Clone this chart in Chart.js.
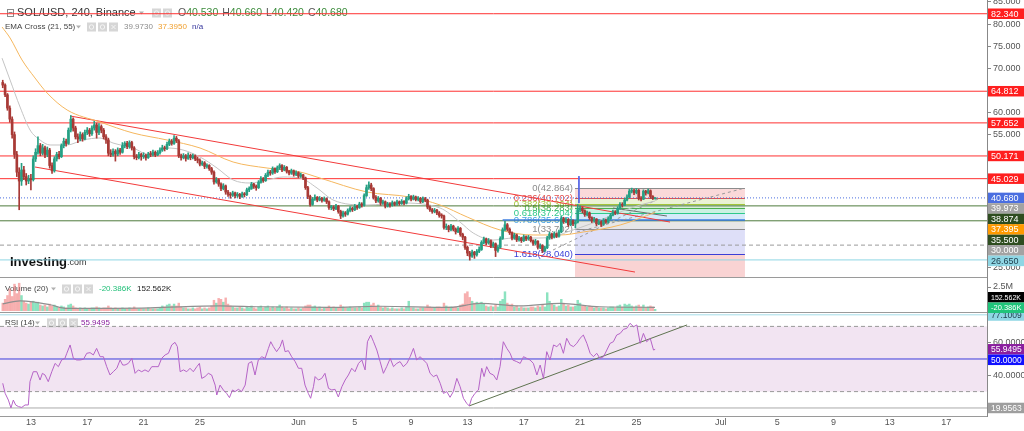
<!DOCTYPE html>
<html>
<head>
<meta charset="utf-8">
<script src="https://cdn.jsdelivr.net/npm/chart.js@4.4.1/dist/chart.umd.min.js"></script>
<style>
  html, body { margin: 0; padding: 0; background: #fff; }
  #wrap { position: relative; width: 1024px; height: 431px; overflow: hidden; background: #fff; }
  canvas { position: absolute; left: 0; }
</style>
</head>
<body>
<div id="wrap">
  <canvas id="priceChart" width="1024" height="278" style="top:0px"></canvas>
  <canvas id="volChart" width="1024" height="35" style="top:278px"></canvas>
  <canvas id="rsiChart" width="1024" height="118" style="top:313px"></canvas>
</div>
<script>
// SOL/USD 240 (Binance) - price with EMA cross, volume and RSI panels

const FONT = "'Liberation Sans', Arial, sans-serif";
const X_MIN = 9.805, X_MAX = 79.9;   // x values are days since May 1
const AXIS_W = 37;

// --- x axis ---
const dayTicks = [12, 16, 20, 24, 31, 35, 39, 43, 47, 51, 55, 61, 65, 69, 73, 77];
const dayLabels = ["13", "17", "21", "25", "Jun", "5", "9", "13", "17", "21", "25", "Jul", "5", "9", "13", "17"];

// --- 4h candles from May 11 00:00 (open = previous close) ---
const firstOpen = 66.8;
const closes = [
  66.2, 64.0, 61.0, 58.5, 55.0, 50.5, 46.5, 44.5, 47.0, 45.5,
  44.5, 45.0, 44.8, 49.5, 51.0, 52.5, 50.8, 52.0, 50.5, 51.5,
  48.0, 46.8, 49.5, 50.5, 50.0, 52.5, 53.5, 53.0, 56.0, 58.5,
  56.5, 54.5, 54.0, 55.0, 54.0, 55.5, 56.0, 55.2, 56.5, 57.2,
  55.5, 56.8, 56.0, 54.5, 53.8, 50.8, 50.5, 51.2, 50.6, 51.5,
  51.0, 52.5, 53.0, 52.3, 53.2, 52.0, 50.0, 49.8, 50.5, 50.0,
  50.3, 49.8, 50.6, 50.5, 51.0, 50.4, 50.9, 51.5, 52.0, 51.8,
  52.8, 53.5, 53.0, 54.2, 53.6, 50.2, 49.8, 50.2, 49.6, 50.3,
  49.8, 50.2, 49.5, 49.2, 48.3, 48.6, 47.8, 48.0, 47.3, 46.5,
  44.3, 44.8, 43.8, 42.8, 43.4, 42.0, 41.5, 41.3, 41.8, 41.2,
  41.5, 41.0, 41.6, 41.4, 42.5, 42.8, 43.8, 43.3, 43.0, 44.2,
  45.0, 44.6, 45.8, 46.5, 46.3, 47.3, 46.6, 47.5, 48.0, 47.0,
  47.6, 46.7, 46.3, 46.8, 46.0, 46.4, 45.6, 45.9, 45.2, 43.0,
  41.0, 39.2, 40.4, 40.8, 40.2, 40.6, 40.1, 40.5, 39.8, 38.5,
  38.6, 38.2, 38.8, 37.6, 36.6, 37.3, 37.0, 37.8, 38.3, 38.0,
  38.8, 38.5, 39.3, 39.0, 41.2, 43.0, 43.6, 42.8, 40.8, 40.0,
  40.6, 39.5, 39.8, 38.8, 39.3, 39.0, 39.6, 39.2, 39.8, 39.4,
  39.9, 39.5, 40.5, 41.0, 40.4, 40.9, 40.3, 40.6, 39.8, 40.5,
  40.2, 38.6, 38.0, 37.6, 37.9, 37.3, 36.7, 36.6, 34.0, 34.2,
  33.5, 34.3, 33.6, 33.0, 33.8, 32.4, 31.8, 29.5, 28.2, 27.5,
  28.4, 27.8, 28.6, 29.0, 30.6, 31.4, 30.5, 31.0, 29.8, 30.3,
  28.8, 29.5, 31.5, 33.5, 34.6, 33.6, 32.8, 31.6, 32.3, 31.2,
  31.6, 31.0, 31.9, 31.4, 31.8, 31.0, 30.4, 30.9, 29.5, 29.9,
  28.7, 29.4, 31.6, 32.5, 31.8, 32.6, 32.0, 33.0, 36.0, 35.3,
  35.8, 34.6, 35.5, 34.8, 35.2, 38.0, 38.4, 37.8, 36.9, 37.3,
  36.2, 35.5, 35.9, 34.8, 35.3, 34.7, 35.6, 35.2, 36.0, 36.8,
  37.5, 37.2, 38.3, 39.2, 39.0, 40.2, 40.9, 42.2, 42.3, 41.9,
  42.4, 40.6, 40.4, 42.2, 41.8, 42.3, 41.0, 40.53, 40.68
];
const highs = [
  67.3, 66.5, 64.3, 61.5, 59.0, 55.6, 51.2, 47.5, 48.5, 47.8,
  46.2, 45.8, 46.0, 50.2, 51.8, 54.5, 53.0, 52.8, 52.4, 52.2,
  51.9, 48.6, 50.0, 51.0, 51.2, 52.9, 54.2, 54.0, 56.5, 59.3,
  58.8, 56.9, 55.2, 55.6, 55.4, 56.0, 56.6, 56.4, 57.0, 58.0,
  57.6, 57.5, 57.2, 56.4, 55.0, 54.2, 51.6, 51.8, 51.6, 52.0,
  51.9, 53.2, 53.4, 53.5, 53.6, 53.5, 52.3, 50.5, 51.0, 50.8,
  50.9, 50.6, 51.0, 51.2, 51.5, 51.3, 51.4, 52.0, 52.6, 52.4,
  53.3, 54.0, 53.9, 54.8, 54.6, 53.9, 50.6, 50.7, 50.5, 50.9,
  50.6, 50.6, 50.4, 49.9, 49.5, 49.0, 48.9, 48.4, 48.2, 47.6,
  46.8, 45.3, 45.0, 44.1, 43.9, 43.6, 42.4, 41.9, 42.2, 42.0,
  41.9, 41.7, 42.0, 41.9, 42.9, 43.2, 44.2, 44.0, 43.6, 44.6,
  45.5, 45.3, 46.2, 47.0, 46.9, 47.7, 47.5, 47.9, 48.4, 48.2,
  48.0, 47.8, 46.9, 47.2, 47.0, 46.8, 46.6, 46.3, 46.0, 45.4,
  43.3, 41.3, 40.8, 41.4, 41.0, 41.0, 40.8, 40.9, 40.7, 40.0,
  39.0, 38.9, 39.2, 39.0, 37.9, 37.7, 37.6, 38.2, 38.7, 38.6,
  39.2, 39.0, 39.7, 39.6, 41.6, 43.6, 44.3, 44.0, 43.0, 41.2,
  41.0, 40.8, 40.2, 40.0, 39.7, 39.6, 40.0, 39.8, 40.2, 40.0,
  40.3, 40.1, 40.9, 41.5, 41.2, 41.3, 41.1, 41.0, 40.8, 40.9,
  40.8, 40.4, 38.9, 38.3, 38.3, 38.1, 37.6, 37.1, 36.8, 34.8,
  34.5, 34.7, 34.5, 33.9, 34.2, 34.0, 32.7, 32.0, 29.8, 28.6,
  28.9, 28.6, 29.0, 29.6, 31.0, 31.8, 31.6, 31.5, 31.2, 30.7,
  30.5, 29.9, 31.9, 33.9, 35.4, 34.9, 33.9, 33.0, 32.7, 32.5,
  32.0, 31.8, 32.3, 32.1, 32.2, 32.0, 31.2, 31.3, 31.0, 30.3,
  30.1, 29.8, 32.0, 32.9, 32.7, 33.0, 32.8, 33.4, 36.5, 36.3,
  36.2, 36.0, 35.9, 35.7, 35.6, 39.2, 38.9, 38.6, 38.0, 37.7,
  37.5, 36.4, 36.3, 36.0, 35.7, 35.5, 36.0, 35.9, 36.4, 37.2,
  37.9, 37.8, 38.7, 39.6, 39.6, 40.6, 41.4, 42.6, 42.9, 42.6,
  42.8, 42.6, 41.0, 42.5, 42.4, 42.7, 42.5, 41.2, 40.7
];
const lows = [
  65.6, 63.6, 60.5, 57.8, 54.2, 49.6, 45.5, 38.0, 43.5, 44.8,
  43.6, 43.9, 42.5, 44.5, 48.9, 50.6, 50.2, 50.4, 49.8, 50.0,
  47.4, 46.2, 46.5, 49.0, 49.5, 49.8, 52.0, 52.4, 52.8, 55.6,
  55.8, 54.0, 53.2, 53.6, 53.5, 53.8, 55.0, 54.6, 54.8, 56.0,
  54.2, 55.0, 55.4, 54.0, 53.0, 50.2, 50.0, 50.1, 49.0, 50.2,
  50.5, 50.8, 52.0, 51.8, 51.9, 51.5, 49.5, 49.3, 49.5, 49.2,
  49.6, 49.2, 49.6, 50.0, 50.1, 50.0, 50.2, 50.6, 51.2, 51.3,
  51.6, 52.5, 52.6, 52.8, 53.2, 49.8, 49.2, 49.5, 49.0, 49.4,
  49.3, 49.5, 49.1, 48.6, 47.9, 48.0, 47.3, 47.4, 46.9, 46.0,
  43.8, 44.0, 43.3, 42.3, 42.5, 41.5, 41.0, 40.6, 41.0, 40.7,
  40.8, 40.5, 40.8, 40.9, 41.2, 42.1, 42.6, 42.8, 42.4, 42.8,
  44.0, 44.2, 44.4, 45.5, 45.8, 46.0, 46.2, 46.4, 47.1, 46.6,
  46.8, 46.3, 45.9, 46.0, 45.6, 45.7, 45.2, 45.3, 44.8, 42.6,
  40.5, 38.8, 39.0, 40.1, 39.8, 40.0, 39.7, 39.9, 39.4, 38.1,
  38.0, 37.8, 38.0, 37.2, 36.0, 36.3, 36.5, 36.8, 37.5, 37.6,
  37.8, 38.1, 38.3, 38.6, 38.8, 41.0, 42.6, 42.3, 40.4, 39.6,
  39.7, 39.0, 39.2, 38.4, 38.6, 38.6, 38.8, 38.9, 39.0, 39.0,
  39.2, 39.1, 39.3, 40.2, 40.0, 40.2, 40.0, 40.0, 39.5, 39.6,
  39.8, 38.2, 37.6, 37.2, 37.3, 36.9, 36.3, 36.1, 33.6, 33.5,
  33.0, 33.2, 33.2, 32.5, 32.8, 32.0, 31.2, 29.0, 27.6, 26.6,
  27.2, 27.0, 27.5, 28.3, 28.8, 30.3, 30.1, 30.2, 29.4, 29.5,
  27.4, 28.4, 29.3, 31.3, 33.2, 33.2, 32.4, 31.2, 31.3, 30.8,
  30.9, 30.6, 30.8, 31.0, 31.1, 30.7, 30.0, 30.1, 29.1, 29.2,
  28.3, 28.5, 29.2, 31.3, 31.4, 31.6, 31.7, 31.8, 32.8, 34.9,
  35.0, 34.2, 34.4, 34.4, 33.9, 35.0, 37.5, 37.3, 36.5, 36.6,
  35.8, 35.1, 35.2, 34.4, 34.6, 34.2, 34.5, 34.9, 35.0, 35.8,
  36.6, 36.9, 37.0, 38.1, 38.6, 38.9, 40.0, 40.7, 41.8, 41.4,
  41.6, 40.2, 40.0, 40.3, 41.3, 41.6, 40.6, 40.3, 40.42
];
// volume per candle, millions
const volumes = [
  0.8, 1.2, 1.6, 2.3, 1.5, 2.8, 1.8, 2.9, 1.6, 1.0,
  0.8, 0.7, 0.9, 1.0, 0.8, 0.9, 0.6, 0.5, 0.6, 0.4,
  0.7, 0.5, 0.6, 0.4, 0.3, 0.5, 0.4, 0.3, 0.6, 0.7,
  0.5, 0.3, 0.2, 0.3, 0.2, 0.3, 0.2, 0.2, 0.3, 0.3,
  0.4, 0.3, 0.2, 0.3, 0.3, 0.5, 0.3, 0.2, 0.3, 0.2,
  0.2, 0.3, 0.2, 0.2, 0.3, 0.2, 0.4, 0.2, 0.2, 0.2,
  0.2, 0.2, 0.3, 0.2, 0.2, 0.2, 0.2, 0.3, 0.5, 0.4,
  0.6, 0.7, 0.5, 0.7, 0.5, 0.8, 0.4, 0.3, 0.3, 0.2,
  0.2, 0.3, 0.2, 0.3, 0.4, 0.2, 0.3, 0.2, 0.3, 0.5,
  1.1, 0.8, 1.3, 1.2, 0.9, 1.35, 0.7, 0.5, 0.4, 0.3,
  0.3, 0.4, 0.3, 0.2, 0.4, 0.3, 0.5, 0.3, 0.2, 0.4,
  0.5, 0.3, 0.4, 0.5, 0.3, 0.4, 0.3, 0.4, 0.6, 0.4,
  0.3, 0.4, 0.2, 0.3, 0.2, 0.2, 0.3, 0.2, 0.3, 0.5,
  0.6, 0.6, 0.4, 0.5, 0.3, 0.4, 0.2, 0.3, 0.3, 0.5,
  0.3, 0.4, 0.3, 0.3, 0.6, 0.4, 0.3, 0.3, 0.4, 0.3,
  0.3, 0.3, 0.4, 0.3, 0.8, 0.9, 0.9, 0.6, 0.8, 0.5,
  0.6, 0.4, 0.3, 0.4, 0.3, 0.2, 0.3, 0.2, 0.2, 0.2,
  0.3, 0.2, 0.4, 1.0, 0.3, 0.3, 0.2, 0.2, 0.3, 0.3,
  0.3, 0.6, 0.4, 0.3, 0.3, 0.4, 0.4, 0.3, 0.8, 0.5,
  0.4, 0.4, 0.3, 0.4, 0.3, 0.6, 0.7, 1.8, 2.0, 1.4,
  1.0, 0.8, 0.9, 0.8, 0.9, 0.7, 0.5, 0.4, 0.5, 0.4,
  0.6, 0.4, 1.0, 1.2, 2.0, 0.8, 0.6, 0.7, 0.4, 0.5,
  0.3, 0.4, 0.3, 0.3, 0.3, 0.4, 0.4, 0.3, 0.5, 0.4,
  0.6, 0.4, 1.9, 1.0, 0.7, 0.6, 0.4, 0.5, 1.2, 0.8,
  0.5, 0.6, 0.4, 0.4, 0.5, 1.1, 0.8, 0.5, 0.5, 0.4,
  0.5, 0.4, 0.3, 0.4, 0.3, 0.3, 0.3, 0.2, 0.3, 0.4,
  0.4, 0.3, 0.5, 0.6, 0.4, 0.7, 0.6, 0.7, 0.5, 0.4,
  0.5, 0.6, 0.4, 0.6, 0.3, 0.4, 0.5, 0.4, 0.15
];

// --- EMA cross ---
const ema21Days = [9.95, 10.52, 11.23, 11.94, 12.65, 13.36, 14.57, 15.70, 16.91, 17.83, 19.25, 20.46, 21.67, 22.80, 24.01, 25.22, 26.36, 27.56, 28.77, 29.91, 31.11, 32.32, 33.46, 35.87, 38.22, 41.06, 42.48, 43.41, 44.83, 46.25, 47.67, 49.09, 50.08, 51.93, 53.85, 55.27, 56.33];
const ema21Vals = [72.3, 67.35, 61.24, 56.04, 53.78, 52.65, 52.65, 53.78, 54.23, 53.1, 51.97, 50.38, 51.97, 51.52, 49.93, 47.44, 44.73, 44.05, 44.73, 45.41, 45.18, 42.92, 40.2, 39.07, 39.52, 38.39, 35.2, 32.74, 31.15, 31.6, 31.6, 31.83, 32.96, 35.0, 37.5, 39.07, 39.973];
const ema55Days = [9.95, 10.52, 11.37, 12.29, 13.15, 14.57, 16.91, 19.25, 21.67, 24.01, 26.36, 28.77, 31.11, 32.53, 35.87, 38.92, 41.06, 42.98, 45.32, 47.67, 49.58, 51.22, 53.85, 56.33];
const ema55Vals = [79.34, 76.86, 71.88, 67.81, 64.41, 60.57, 57.85, 55.36, 53.78, 51.97, 48.8, 47.44, 46.54, 45.18, 42.01, 40.88, 39.07, 36.36, 33.42, 32.29, 32.29, 32.96, 34.55, 37.395];

// --- drawings on the price panel ---
const redLevels = [82.34, 64.812, 57.652, 50.171, 45.029];
const greenLevels = [38.874, 35.5];
const lastPrice = 40.68;
const dashedLevel = 30.0;
const cyanLevel = 26.65;
const channelUpperX = [14.78, 57.39], channelUpperY = [59.21, 35.22];
const channelLowerX = [12.29, 54.90], channelLowerY = [47.67, 23.91];
const dashAX = [50.78, 62.71], dashAY = [32.96, 42.92];
const dashBX = [49.08, 56.68], dashBY = [28.89, 40.65];
const arrowX = [53.34, 57.17], arrowY = [38.39, 36.58];
const fibVertX = [50.92, 50.92], fibVertY = [45.6, 39.5];
const rayX = [45.5, 62.71], rayY = [35.663, 35.663];

// fibonacci retracement
const fibStart = 50.64, fibEnd = 62.71;
const fibLevels = [0, 0.236, 0.382, 0.5, 0.618, 0.786, 1, 1.618, 2.618];
const fibPrices = [42.864, 40.702, 39.364, 38.283, 37.204, 35.663, 33.702, 28.040, 18.87];
const fibColors = ['#8c8c8c', '#e05050', '#a4c639', '#4caf50', '#2fc98a', '#3f9fe6', '#8c8c8c', '#3a3fd8', '#e05050'];
const fibFills = [null, 'rgba(230,80,80,0.22)', 'rgba(164,198,57,0.22)', 'rgba(76,175,80,0.22)', 'rgba(47,201,138,0.25)', 'rgba(63,159,230,0.22)', 'rgba(140,140,140,0.22)', 'rgba(58,63,216,0.17)', 'rgba(230,80,80,0.25)'];

// header values
const ohlcLabels = ['O', 'H', 'L', 'C'];
const ohlcValues = ['40.530', '40.660', '40.420', '40.680'];
const emaLegend = ['39.9730', '37.3950', 'n/a'];

// --- volume panel ---
const volMaDays = [10.0, 11.23, 12.15, 13.36, 14.56, 20.46, 25.43, 28.27, 33.24, 36.79, 41.76, 43.89, 46.73, 49.58, 52.41, 56.32];
const volMaVals = [0.73, 1.04, 0.94, 0.63, 0.25, 0.31, 0.52, 0.42, 0.36, 0.47, 0.36, 0.78, 0.52, 0.78, 0.42, 0.36];
const volLast = 0.152562, volDelta = -0.020386;

// --- RSI (14) panel ---
const rsiIdx = [0, 1, 2.4, 3.5, 4.5, 5.5, 6.7, 8.1, 9.5, 10.9,
  11.6, 13, 14.5, 15.9, 16.9, 18, 19.4, 20.9, 22.3, 23.7,
  25.1, 26.5, 27.3, 28.7, 30.1, 31.5, 32.9, 34.4, 35.8, 37.2,
  38.6, 40, 41.5, 42.9, 44.3, 45.7, 47.1, 48.6, 50, 51.1,
  52.1, 53.5, 55, 56.4, 57.8, 59.2, 60.6, 62.1, 63.5, 64.9,
  66.3, 67.7, 69.2, 70.6, 72, 73.4, 74.4, 75.6, 77, 78.4,
  79.8, 81.2, 82.7, 83.8, 84.8, 86.2, 87.6, 89, 90.5, 91.2,
  92.6, 94, 95.4, 96.6, 97.9, 99, 100.4, 101.8, 103.3, 104.7,
  106.1, 107.5, 108.9, 110.4, 111.8, 113.2, 114.2, 115.3, 116.7, 118.2,
  119.2, 120.3, 121.7, 123.1, 124.6, 126, 127.4, 128.8, 130.2, 131.2,
  132.4, 133.1, 134.5, 135.9, 137.3, 138.8, 140.2, 141.6, 143, 144.5,
  145.9, 147.3, 148.7, 150.1, 151.6, 153, 154.4, 155.4, 156.8, 158,
  159.4, 160.8, 162.2, 163.6, 165.1, 166.5, 167.9, 169.3, 170.7, 172.2,
  173.6, 175, 176.4, 177.8, 179.3, 180.7, 182.1, 183.5, 184.9, 186.4,
  187.8, 189.2, 190.6, 192, 193.5, 194.9, 196.3, 197.7, 198.8, 199.8,
  201.2, 202.7, 204.1, 205.1, 206.2, 207.6, 209.1, 210.5, 211.9, 213.3,
  214.8, 216.2, 217.3, 219, 220.5, 221.9, 223.3, 224.7, 226.1, 227.6,
  229, 230.4, 231.8, 233.2, 234.7, 236.1, 237.5, 238.9, 240.3, 241.8,
  243.2, 244.6, 246, 247.4, 248.9, 250.3, 251.7, 253.1, 254.5, 256,
  257.4, 258.8, 260.2, 261.6, 263.1, 264.5, 265.9, 267.3, 268.8, 270.2,
  271.6, 273, 274.4, 275.9, 277.3, 278];
const rsiVal = [35.1, 29.0, 24.8, 19.96, 24.8, 21.8, 20.8, 20.3, 21.8, 21.8,
  36.1, 42.2, 42.2, 37.1, 41.2, 40.2, 36.1, 42.2, 47.3, 45.3,
  49.4, 50.4, 53.5, 58.6, 50.4, 49.4, 49.4, 49.8, 53.5, 53.9,
  52.5, 56.5, 51.4, 51.4, 45.3, 40.2, 42.2, 44.3, 49.4, 46.3,
  46.3, 47.3, 50.4, 41.2, 43.3, 42.2, 43.3, 42.2, 45.3, 45.3,
  45.3, 50.4, 52.5, 53.5, 58.6, 60.2, 57.6, 42.2, 43.3, 42.2,
  44.3, 42.2, 45.3, 47.3, 38.1, 39.2, 41.2, 40.2, 34.0, 27.9,
  34.0, 31.0, 28.9, 26.3, 31.0, 30.0, 31.4, 30.0, 34.0, 47.3,
  48.4, 40.2, 49.4, 51.4, 50.4, 56.5, 60.6, 57.6, 54.5, 57.6,
  61.7, 54.5, 55.1, 51.4, 48.4, 44.3, 44.3, 34.0, 28.9, 25.9,
  33.0, 39.2, 37.1, 38.1, 41.2, 32.0, 31.0, 31.4, 26.7, 33.0,
  37.1, 40.2, 44.3, 42.2, 47.3, 49.4, 43.3, 60.6, 64.7, 60.6,
  55.5, 48.4, 41.2, 45.3, 50.4, 45.3, 47.3, 48.4, 45.3, 47.3,
  51.4, 56.5, 49.4, 51.4, 49.4, 47.3, 41.2, 39.2, 40.2, 35.1,
  28.9, 30.0, 26.5, 30.0, 38.1, 33.0, 25.9, 22.8, 21.2, 25.9,
  28.9, 31.0, 44.3, 39.2, 45.3, 41.2, 40.2, 37.1, 45.3, 60.6,
  56.5, 53.5, 49.4, 48.4, 47.3, 51.4, 50.4, 49.4, 47.3, 40.2,
  46.3, 38.1, 54.5, 49.4, 58.6, 57.6, 59.6, 53.5, 62.7, 58.6,
  57.6, 59.6, 62.7, 64.7, 59.6, 53.5, 51.4, 53.5, 50.4, 51.4,
  55.5, 59.6, 60.6, 64.7, 65.7, 68.2, 68.8, 71.9, 69.8, 70.9,
  59.6, 65.7, 60.6, 62.7, 55.5, 55.9495];
const rsiUpper = 70, rsiMid = 50, rsiLower = 30;
const rsiHigh = 77.1009, rsiLow = 19.9563, rsiLast = 55.9495;
const rsiTrendX = [43.12, 58.6], rsiTrendY = [21.2, 70.9];

// axis ticks
const priceTicks = [25, 30, 35, 40, 45, 50, 55, 60, 65, 70, 75, 80, 85];
const volTicks = [2.5];
const rsiTicks = [20, 40, 60];

// --- helpers ---
function candleDay(i) { return 10 + i / 6; }
function pts(xs, ys) { return xs.map(function(x, i) { return { x: x, y: ys[i] }; }); }
function lineSet(points, color, width, dash, smooth) {
  return {
    type: 'line', data: points, borderColor: color, borderWidth: width, borderDash: dash || [],
    pointRadius: 0, fill: false, tension: smooth ? 0.4 : 0,
    cubicInterpolationMode: smooth ? 'monotone' : 'default'
  };
}
function hline(v, color, dash) { return lineSet(pts([X_MIN, X_MAX], [v, v]), color, 1, dash); }

function txt(ctx, s, x, y, color, size, weight) {
  ctx.font = (weight || 'normal') + ' ' + size + 'px ' + FONT;
  ctx.fillStyle = color;
  ctx.textBaseline = 'middle';
  ctx.textAlign = 'left';
  ctx.fillText(s, x, y);
  return x + ctx.measureText(s).width;
}
function drawIcons(ctx, x, y, n) {
  for (var k = 0; k < n; k++) {
    var ix = x + k * 11;
    ctx.fillStyle = '#d6d6d6';
    ctx.fillRect(ix, y - 4.5, 9, 9);
    ctx.strokeStyle = '#f5f5f5';
    ctx.lineWidth = 1;
    ctx.beginPath();
    if (k === 2) {
      ctx.moveTo(ix + 2.5, y - 2); ctx.lineTo(ix + 6.5, y + 2);
      ctx.moveTo(ix + 6.5, y - 2); ctx.lineTo(ix + 2.5, y + 2);
    } else {
      ctx.arc(ix + 4.5, y, 2.2, 0, Math.PI * 2);
    }
    ctx.stroke();
  }
}
function caret(ctx, x, y) {
  ctx.fillStyle = '#b0b0b0';
  ctx.beginPath();
  ctx.moveTo(x, y - 1.5); ctx.lineTo(x + 5, y - 1.5); ctx.lineTo(x + 2.5, y + 1.5);
  ctx.closePath(); ctx.fill();
}

function tagPlugin(items, digits, topLimit, bottomLimit) {
  return {
    id: 'tags',
    afterDraw: function(chart) {
      var ctx = chart.ctx, sc = chart.scales.y, area = chart.chartArea, h = 10.5;
      var tags = items.map(function(t) { return { t: t, y: sc.getPixelForValue(t.value) }; });
      tags.sort(function(a, b) { return a.y - b.y; });
      if (topLimit !== null) tags[0].y = Math.max(tags[0].y, topLimit);
      for (var i = 1; i < tags.length; i++) tags[i].y = Math.max(tags[i].y, tags[i - 1].y + h);
      if (bottomLimit !== null) {
        var n = tags.length;
        tags[n - 1].y = Math.min(tags[n - 1].y, bottomLimit - h / 2);
        for (i = n - 2; i >= 0; i--) tags[i].y = Math.min(tags[i].y, tags[i + 1].y - h);
      }
      var avail = chart.width - area.right - 6;
      ctx.save();
      ctx.textBaseline = 'middle';
      tags.forEach(function(g) {
        ctx.fillStyle = g.t.bg;
        ctx.fillRect(area.right + 1, g.y - h / 2, chart.width - area.right - 1, h);
        var label = g.t.text !== undefined ? g.t.text : g.t.value.toFixed(digits);
        var size = 9;
        ctx.font = size + 'px ' + FONT;
        while (ctx.measureText(label).width > avail && size > 6) {
          size -= 0.5;
          ctx.font = size + 'px ' + FONT;
        }
        ctx.fillStyle = g.t.fg;
        ctx.fillText(label, area.right + 4, g.y + 0.5);
      });
      ctx.restore();
    }
  };
}

function yAxis(min, max, ticks, fmt) {
  return {
    position: 'right', min: min, max: max,
    afterBuildTicks: function(s) { s.ticks = ticks.map(function(v) { return { value: v }; }); },
    afterFit: function(s) { s.width = AXIS_W; s.paddingTop = 0; s.paddingBottom = 0; },
    ticks: { font: { family: FONT, size: 9 }, color: '#555', padding: 2, autoSkip: false, callback: fmt },
    grid: { drawOnChartArea: false, drawTicks: true, tickLength: 4, color: '#888' },
    border: { color: '#888' }
  };
}
function xHidden() { return { type: 'linear', min: X_MIN, max: X_MAX, offset: false, display: false }; }
var baseOpts = {
  responsive: false, animation: false, events: [], devicePixelRatio: 1,
  layout: { padding: 0 },
  plugins: { legend: { display: false }, tooltip: { enabled: false } }
};

// --- price panel ---
var opens = closes.map(function(c, i) { return i === 0 ? firstOpen : closes[i - 1]; });
var upColor = '#26a084', downColor = '#a83a36';
var dirColors = closes.map(function(c, i) { return c >= opens[i] ? upColor : downColor; });
var bodyData = closes.map(function(c, i) { return { x: candleDay(i), y: [opens[i], c] }; });
var wickData = closes.map(function(c, i) { return { x: candleDay(i), y: [lows[i], highs[i]] }; });

var priceSets = [
  { type: 'bar', data: bodyData, backgroundColor: dirColors, barThickness: 2, grouped: false, minBarLength: 1 },
  { type: 'bar', data: wickData, backgroundColor: dirColors, barThickness: 1, grouped: false },
  lineSet(pts(ema21Days, ema21Vals), '#c4c4c4', 1, null, true),
  lineSet(pts(ema55Days, ema55Vals), '#f5b75e', 1, null, true),
  lineSet(pts(channelUpperX, channelUpperY), '#f23a3a', 1),
  lineSet(pts(channelLowerX, channelLowerY), '#f23a3a', 1),
  lineSet(pts(dashAX, dashAY), '#999999', 1, [3, 3]),
  lineSet(pts(dashBX, dashBY), '#999999', 1, [3, 3]),
  lineSet(pts(arrowX, arrowY), '#6d6d6d', 1),
  lineSet(pts(fibVertX, fibVertY), '#5565e6', 1),
  lineSet(pts(rayX, rayY), '#3f7fe0', 1.5)
];
redLevels.forEach(function(v) { priceSets.push(hline(v, '#ff3030')); });
priceSets.push(hline(lastPrice, '#4a6ee0', [1, 2]));
greenLevels.forEach(function(v) { priceSets.push(hline(v, '#4e7a3c')); });
priceSets.push(hline(dashedLevel, '#9a9a9a', [4, 3]));
priceSets.push(hline(cyanLevel, '#8fd6e4'));

var priceTags = [];
redLevels.forEach(function(v) { priceTags.push({ value: v, bg: '#ff1f1f', fg: '#fff' }); });
priceTags.push({ value: lastPrice, bg: '#4a6ee0', fg: '#fff' });
priceTags.push({ value: ema21Vals[ema21Vals.length - 1], bg: '#a3a3a3', fg: '#fff' });
priceTags.push({ value: greenLevels[0], bg: '#2e4d1f', fg: '#fff' });
priceTags.push({ value: ema55Vals[ema55Vals.length - 1], bg: '#ff9a00', fg: '#fff' });
priceTags.push({ value: greenLevels[1], bg: '#2e4d1f', fg: '#fff' });
priceTags.push({ value: dashedLevel, bg: '#a3a3a3', fg: '#fff' });
priceTags.push({ value: cyanLevel, bg: '#8fd6e4', fg: '#1d3b4a' });

var priceDecor = {
  id: 'priceDecor',
  beforeDatasetsDraw: function(chart) {
    var ctx = chart.ctx, a = chart.chartArea, xs = chart.scales.x, ys = chart.scales.y;
    ctx.save();
    ctx.beginPath(); ctx.rect(a.left, a.top, a.right - a.left, a.bottom - a.top); ctx.clip();
    // fib bands, lines and labels
    var x0 = xs.getPixelForValue(fibStart), x1 = xs.getPixelForValue(fibEnd);
    for (var k = 1; k < fibLevels.length; k++) {
      var yA = ys.getPixelForValue(fibPrices[k - 1]), yB = ys.getPixelForValue(fibPrices[k]);
      ctx.fillStyle = fibFills[k];
      ctx.fillRect(x0, yA, x1 - x0, yB - yA);
    }
    ctx.font = '9.5px ' + FONT;
    ctx.textBaseline = 'middle';
    for (k = 0; k < fibLevels.length; k++) {
      var y = Math.round(ys.getPixelForValue(fibPrices[k])) + 0.5;
      ctx.strokeStyle = fibColors[k]; ctx.lineWidth = 1;
      ctx.beginPath(); ctx.moveTo(x0, y); ctx.lineTo(x1, y); ctx.stroke();
      ctx.fillStyle = fibColors[k];
      ctx.textAlign = 'right';
      ctx.fillText(String(fibLevels[k]) + '(' + fibPrices[k].toFixed(3) + ')', x0 - 2, y);
    }
    ctx.restore();

    // legend rows
    ctx.save();
    ctx.strokeStyle = '#8a8a8a'; ctx.lineWidth = 1;
    ctx.strokeRect(7.5, 9.5, 6, 7);
    ctx.beginPath(); ctx.moveTo(8.5, 12.5); ctx.lineTo(12.5, 12.5); ctx.stroke();
    txt(ctx, 'SOL/USD, 240, Binance', 17, 13, '#333', 11);
    caret(ctx, 139, 13);
    drawIcons(ctx, 152, 13, 2);
    var ox = 178;
    ohlcLabels.forEach(function(l, i) {
      var nx = txt(ctx, l, ox, 13, '#555', 10.5);
      ox = txt(ctx, ohlcValues[i], nx, 13, '#3c8c3c', 10.5) + 4;
    });
    txt(ctx, 'EMA Cross (21, 55)', 5, 27, '#444', 8);
    caret(ctx, 76, 27);
    drawIcons(ctx, 87, 27, 3);
    txt(ctx, emaLegend[0], 124, 27, '#8c8c8c', 8);
    txt(ctx, emaLegend[1], 158, 27, '#f0a030', 8);
    txt(ctx, emaLegend[2], 192, 27, '#35359c', 8);
    // watermark
    var wx = txt(ctx, 'Investing', 10, 262, '#111', 13, 'bold');
    txt(ctx, '.com', wx, 263, '#333', 9);
    ctx.restore();
  },
  afterDraw: function(chart) {
    var ctx = chart.ctx, a = chart.chartArea;
    ctx.save();
    ctx.strokeStyle = '#9a9a9a'; ctx.lineWidth = 1;
    ctx.beginPath(); ctx.moveTo(0, a.bottom - 0.5); ctx.lineTo(a.right, a.bottom - 0.5); ctx.stroke();
    ctx.restore();
  }
};

new Chart(document.getElementById('priceChart'), {
  type: 'bar',
  data: { datasets: priceSets },
  options: Object.assign({}, baseOpts, {
    scales: { x: xHidden(), y: yAxis(22.56, 85.45, priceTicks, function(v) { return v.toFixed(3); }) }
  }),
  plugins: [priceDecor, tagPlugin(priceTags, 3, null, null)]
});

// --- volume panel ---
var volUp = 'rgba(46,204,140,0.55)', volDown = 'rgba(240,110,110,0.55)';
var volColors = dirColors.map(function(c) { return c === upColor ? volUp : volDown; });
var volData = volumes.map(function(v, i) { return { x: candleDay(i), y: v }; });
var volTags = [
  { value: volLast, bg: '#000', fg: '#fff', text: '152.562K' },
  { value: volDelta, bg: '#1fc47a', fg: '#fff', text: '-20.386K' }
];
var volDecor = {
  id: 'volDecor',
  beforeDatasetsDraw: function(chart) {
    var ctx = chart.ctx;
    ctx.save();
    txt(ctx, 'Volume (20)', 5, 11, '#444', 8);
    caret(ctx, 51, 11);
    drawIcons(ctx, 62, 11, 3);
    txt(ctx, '-20.386K', 99, 11, '#1fbf77', 8);
    txt(ctx, '152.562K', 137, 11, '#222', 8);
    ctx.restore();
  },
  afterDraw: function(chart) {
    var ctx = chart.ctx, a = chart.chartArea;
    ctx.save();
    ctx.strokeStyle = '#9a9a9a'; ctx.lineWidth = 1;
    ctx.beginPath(); ctx.moveTo(0, a.bottom - 0.5); ctx.lineTo(a.right, a.bottom - 0.5); ctx.stroke();
    ctx.restore();
  }
};
new Chart(document.getElementById('volChart'), {
  type: 'bar',
  data: {
    datasets: [
      lineSet(pts(volMaDays, volMaVals), '#8f8f8f', 1.2, null, true),
      { type: 'bar', data: volData, backgroundColor: volColors, barThickness: 1.8, grouped: false }
    ]
  },
  options: Object.assign({}, baseOpts, {
    scales: { x: xHidden(), y: yAxis(-0.24, 3.45, volTicks, function(v) { return v + 'M'; }) }
  }),
  plugins: [volDecor, tagPlugin(volTags, 0, null, 35)]
});

// --- RSI panel ---
var rsiData = rsiIdx.map(function(k, i) { return { x: candleDay(k), y: rsiVal[i] }; });
var rsiTags = [
  { value: rsiHigh, bg: '#8fd6e4', fg: '#1d3b4a' },
  { value: rsiLast, bg: '#8a1f9e', fg: '#fff' },
  { value: rsiMid, bg: '#1010ff', fg: '#fff' },
  { value: rsiLow, bg: '#9e9e9e', fg: '#fff' }
];
var rsiDecor = {
  id: 'rsiDecor',
  beforeDatasetsDraw: function(chart) {
    var ctx = chart.ctx, a = chart.chartArea, ys = chart.scales.y;
    ctx.save();
    var yU = ys.getPixelForValue(rsiUpper), yL = ys.getPixelForValue(rsiLower);
    ctx.fillStyle = '#f2e4f2';
    ctx.fillRect(a.left, yU, a.right - a.left, yL - yU);
    txt(ctx, 'RSI (14)', 5, 10, '#444', 8);
    caret(ctx, 35, 10);
    drawIcons(ctx, 47, 10, 3);
    txt(ctx, rsiLast.toFixed(4), 81, 10, '#8a1f9e', 8);
    ctx.restore();
  }
};
new Chart(document.getElementById('rsiChart'), {
  type: 'line',
  data: {
    datasets: [
      lineSet(rsiData, '#b563c7', 1),
      lineSet(pts(rsiTrendX, rsiTrendY), '#5f7350', 1),
      hline(rsiMid, '#3d3ddc'),
      hline(rsiUpper, '#999', [4, 3]),
      hline(rsiLower, '#999', [4, 3]),
      hline(rsiHigh, '#a3dde8'),
      hline(rsiLow, '#aaaaaa')
    ]
  },
  options: Object.assign({}, baseOpts, {
    scales: {
      x: {
        type: 'linear', min: X_MIN, max: X_MAX, offset: false,
        afterBuildTicks: function(s) { s.ticks = dayTicks.map(function(v) { return { value: v }; }); },
        afterFit: function(s) { s.height = 15; s.paddingLeft = 0; s.paddingRight = 0; },
        ticks: {
          autoSkip: false, maxRotation: 0, padding: 1, font: { family: FONT, size: 9 }, color: '#555',
          callback: function(v) { var k = dayTicks.indexOf(v); return k >= 0 ? dayLabels[k] : ''; }
        },
        grid: { display: false, drawTicks: false },
        border: { display: true, color: '#9a9a9a' }
      },
      y: yAxis(15.03, 78.22, rsiTicks, function(v) { return v.toFixed(4); })
    }
  }),
  plugins: [rsiDecor, tagPlugin(rsiTags, 4, 2.5, null)]
});
</script>
</body>
</html>
